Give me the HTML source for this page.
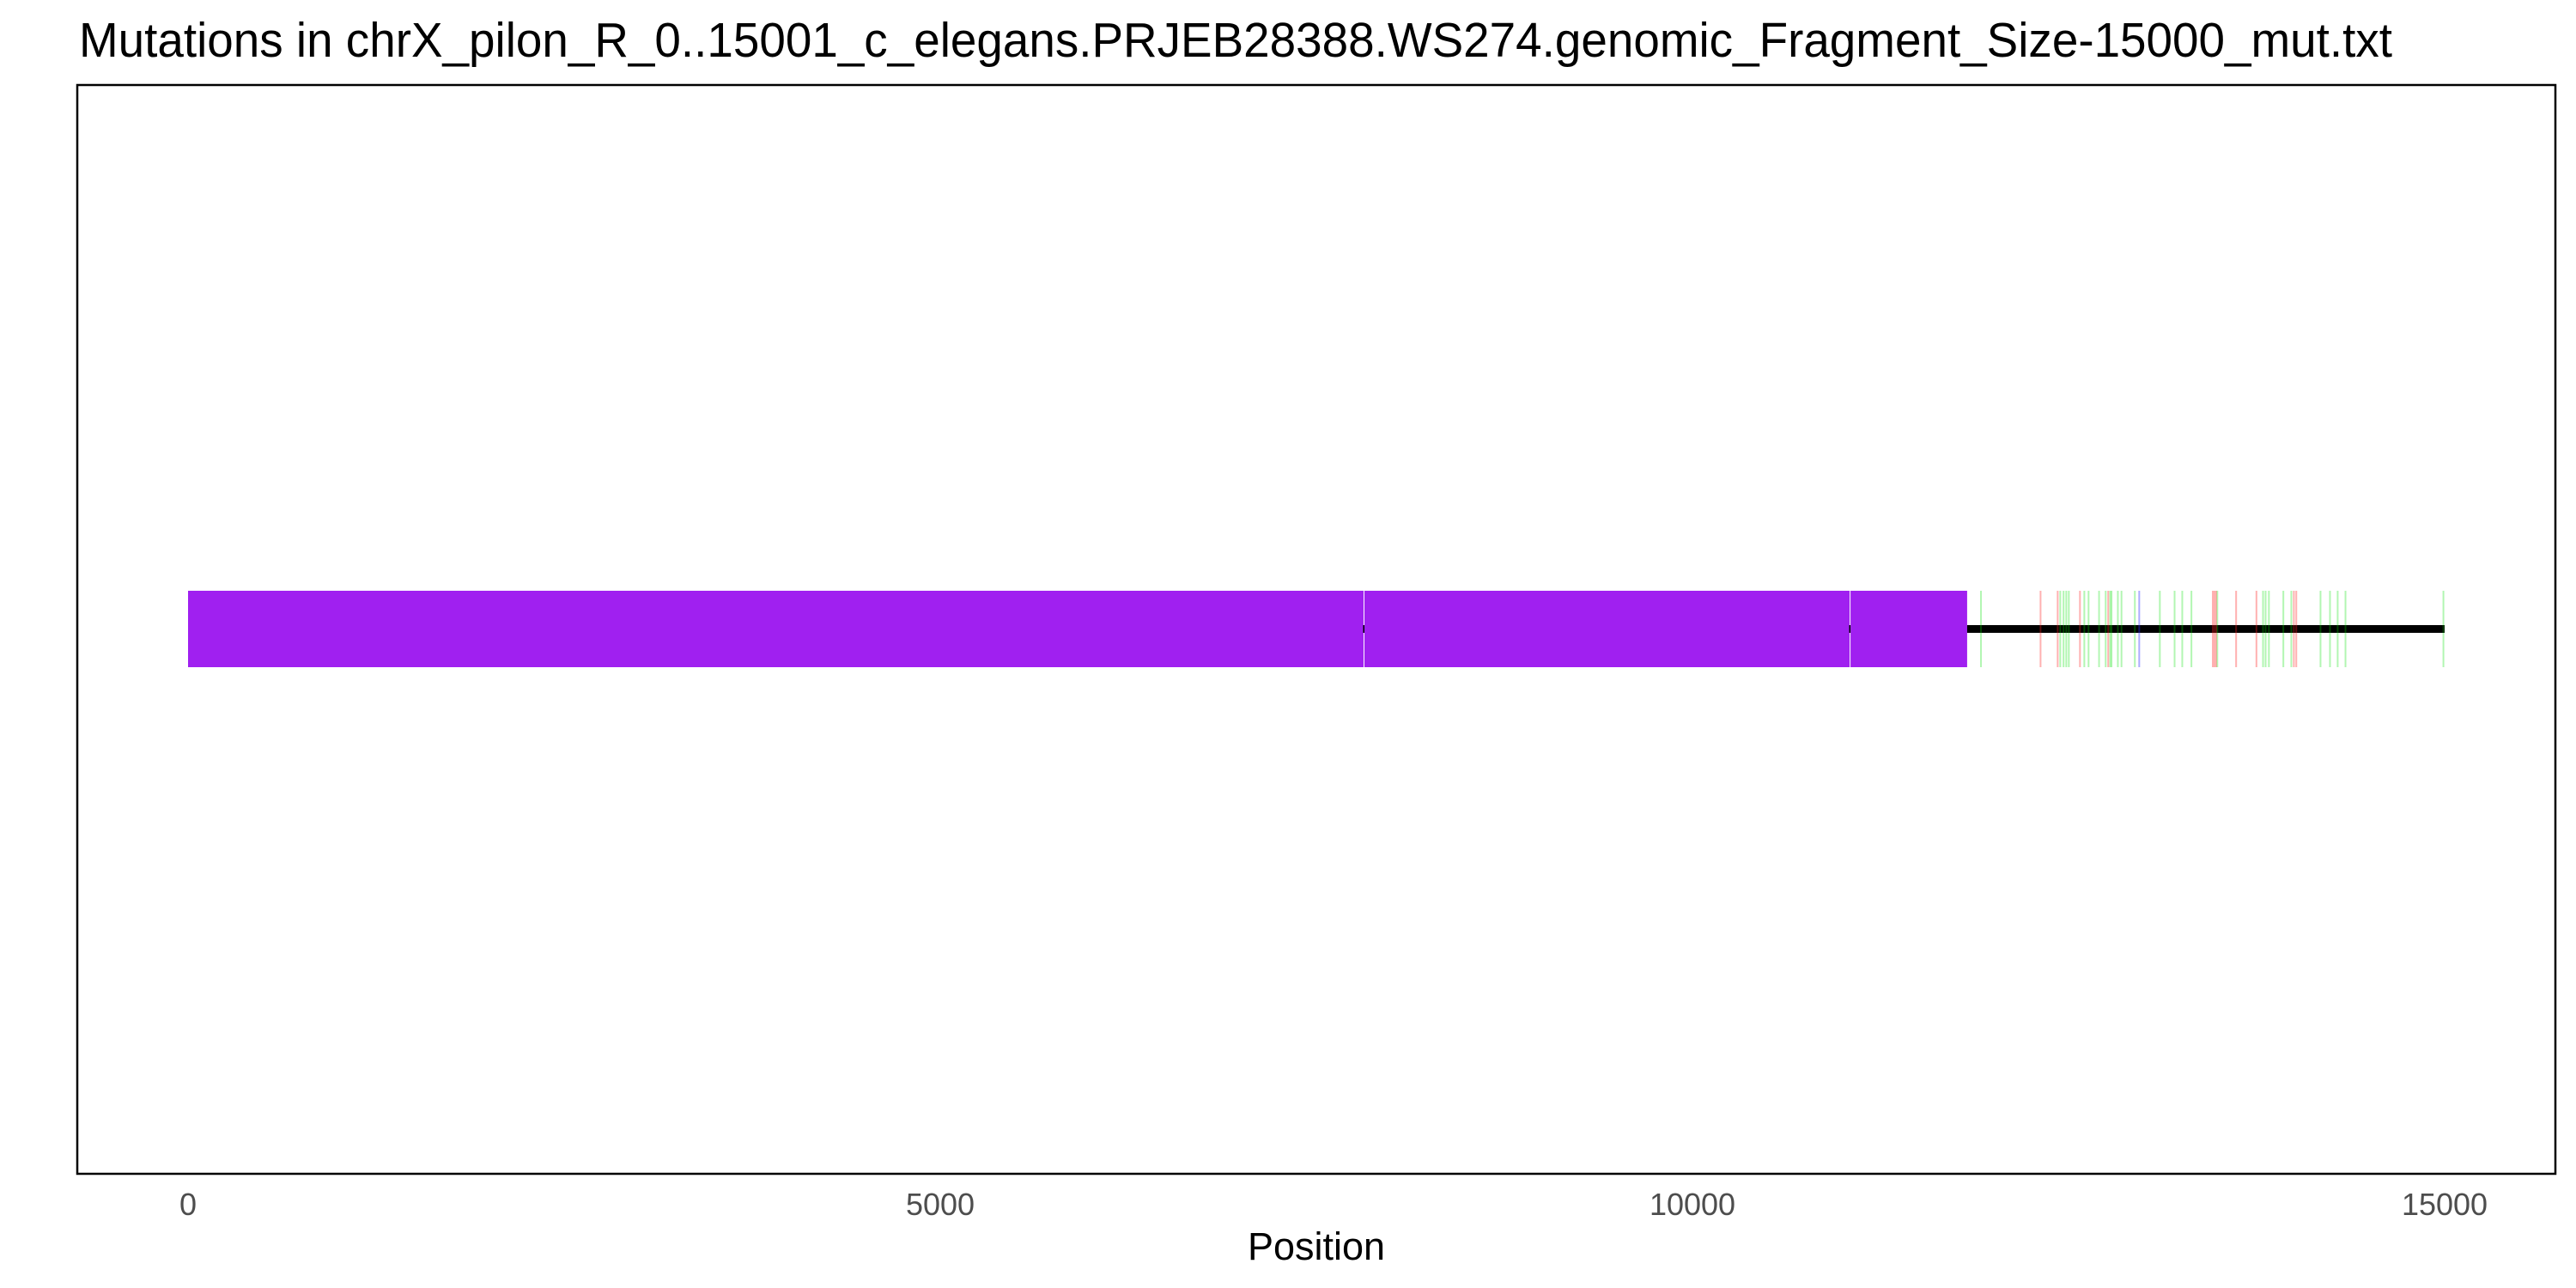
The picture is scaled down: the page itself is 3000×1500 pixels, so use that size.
<!DOCTYPE html>
<html><head><meta charset="utf-8"><style>
html,body{margin:0;padding:0;background:#fff;}
svg{display:block;font-family:"Liberation Sans",sans-serif;}
</style></head><body>
<svg id="chart" width="3000" height="1500" viewBox="0 0 3000 1500">
<rect x="0" y="0" width="3000" height="1500" fill="#fff"/>
<text x="92" y="66" font-size="57" textLength="2694" lengthAdjust="spacingAndGlyphs" fill="#000">Mutations in chrX_pilon_R_0..15001_c_elegans.PRJEB28388.WS274.genomic_Fragment_Size-15000_mut.txt</text>
<g id="marks"></g>
<rect x="90" y="99" width="2886" height="1268" fill="none" stroke="#000" stroke-width="2.5"/>
<g id="xticks"></g>
<text x="1533" y="1467" font-size="45" text-anchor="middle" fill="#000">Position</text>
</svg>
<script>
const tickValues = [0, 5000, 10000, 15000];
const tickLabels = ["0", "5000", "10000", "15000"];
const fragmentStart = 0;
const fragmentEnd = 15000;
const segmentStarts = [0, 7814, 11045];
const segmentEnds = [7814, 11045, 11826];
const greenPositions = [11918, 12445, 12467, 12485, 12502, 12605, 12633, 12703, 12747, 12777, 12786, 12828, 12852, 12941, 13107, 13205, 13256, 13317, 13489, 13793, 13810, 13832, 13928, 13981, 14175, 14238, 14289, 14341, 14992];
const redPositions = [12314, 12428, 12576, 12764, 13459, 13470, 13481, 13614, 13749, 13998, 14014];
const bluePositions = [12970];

const NS = "http://www.w3.org/2000/svg";
const x0 = 219, x1 = 2847;
function xs(v){ return x0 + (v - 0) * (x1 - x0) / 15000; }
const barTop = 688, barBot = 777, lineY = 732.5;
const marks = document.getElementById('marks');

for (let i = 0; i < segmentStarts.length; i++) {
  const r = document.createElementNS(NS, 'rect');
  r.setAttribute('x', xs(segmentStarts[i]) + (i > 0 ? 1 : 0));
  r.setAttribute('y', barTop);
  r.setAttribute('width', xs(segmentEnds[i]) - xs(segmentStarts[i]) - (i > 0 ? 1 : 0));
  r.setAttribute('height', barBot - barTop);
  r.setAttribute('fill', '#a020f0');
  
  
  marks.appendChild(r);
}
const ln = document.createElementNS(NS, 'rect');
ln.setAttribute('x', xs(segmentEnds[segmentEnds.length - 1]));
ln.setAttribute('y', lineY - 4.5);
ln.setAttribute('width', xs(fragmentEnd) - xs(segmentEnds[segmentEnds.length - 1]));
ln.setAttribute('height', 9);
ln.setAttribute('fill', '#000');


marks.appendChild(ln);
for (let i = 1; i < segmentStarts.length; i++) {
  const t = document.createElementNS(NS, 'rect');
  t.setAttribute('x', xs(segmentStarts[i]) - 0.5);
  t.setAttribute('y', lineY - 4.5);
  t.setAttribute('width', 1.5);
  t.setAttribute('height', 9);
  t.setAttribute('fill', '#000');
  
  
  marks.appendChild(t);
}
function drawMut(arr, color, op, name) {
  arr.forEach(p => {
    const m = document.createElementNS(NS, 'rect');
    m.setAttribute('x', xs(p) - 1);
    m.setAttribute('y', barTop);
    m.setAttribute('width', 2);
    m.setAttribute('height', barBot - barTop);
    m.setAttribute('fill', color);
    m.setAttribute('fill-opacity', op);
    
    
    marks.appendChild(m);
  });
}
drawMut(greenPositions, '#00e000', 0.3, 'mutation-green');
drawMut(redPositions, '#ff2020', 0.35, 'mutation-red');
drawMut(bluePositions, '#3030ff', 0.4, 'mutation-blue');

const xt = document.getElementById('xticks');
tickValues.forEach((v, i) => {
  const t = document.createElementNS(NS, 'text');
  t.setAttribute('x', xs(v));
  t.setAttribute('y', 1415);
  t.setAttribute('font-size', 36);
  t.setAttribute('text-anchor', 'middle');
  t.setAttribute('fill', '#4d4d4d');
  
  
  t.textContent = tickLabels[i];
  xt.appendChild(t);
});
</script>
</body></html>
